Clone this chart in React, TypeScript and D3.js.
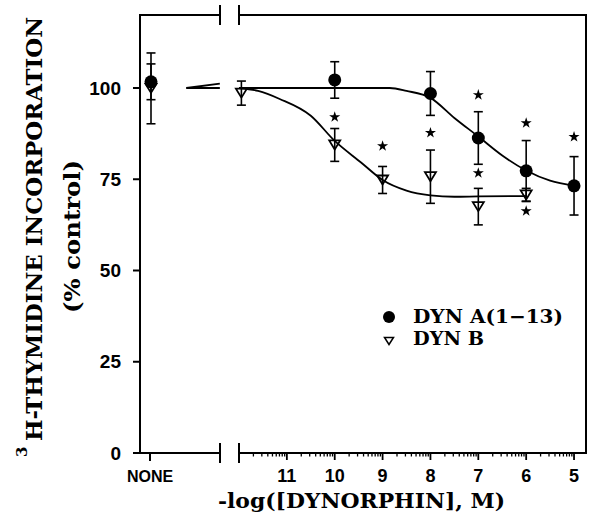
import React from "react";
import * as d3 from "d3";

// ---- data (x = -log[DYNORPHIN], M ; y = % control) ----
const noneA = { mean: 101.7, err: 4.9 };
const noneB = { mean: 99.9, err: 9.7 };

const dynAX = [10, 8, 7, 6, 5];
const dynAMean = [102.2, 98.5, 86.3, 77.3, 73.2];
const dynAErr = [5, 6, 7.2, 8.3, 8];

const dynBX = [11.95, 10, 9, 8, 7, 6];
const dynBMean = [98.6, 84.4, 74.8, 75.7, 67.5, 70.7];
const dynBErr = [3.3, 4.5, 3.7, 7.3, 5, 1.8];

const starAX = [7, 6, 5];
const starAY = [98.1, 90.4, 86.6];
const starBX = [10, 9, 8, 7, 6];
const starBY = [92.05, 84.1, 87.7, 76.7, 66.3];

// fitted curves
const curveALeftX = [13.1, 12.4];
const curveALeftY = [100, 100];
const curveBLeftX = [13.1, 12.4];
const curveBLeftY = [100, 101.2];
const curveAX = [12, 11, 10, 9, 8.85, 8.5, 8, 7.5, 7, 6.5, 6, 5.5, 5];
const curveAY = [100, 100, 100, 100, 100, 99.2, 97.3, 91.8, 86.7, 81.5, 77.4, 74.6, 73.2];
const curveBX = [12, 11.6, 11.15, 10.5, 10, 9.45, 9, 8.5, 8, 7.5, 7, 6];
const curveBY = [100, 99.2, 97, 92.4, 85.5, 79.6, 74.8, 71.9, 70.6, 70.2, 70.3, 70.4];

const yTicks = [0, 25, 50, 75, 100];
const xTicks = [11, 10, 9, 8, 7, 6, 5];
const noneLabel = "NONE";
const yTitle = "H-THYMIDINE INCORPORATION";
const yTitleSup = "3";
const yTitle2 = "(% control)";
const xTitle = "-log([DYNORPHIN], M)";
const legendLabels = ["DYN A(1\u221213)", "DYN B"];

// ---- layout ----
const L = 140, R = 586, T = 15, B = 453;
const brk1 = 220, brk2 = 239;

export default function App() {
  const x = d3.scaleLinear().domain([12, 4.75]).range([brk2, R]);
  const y = d3.scaleLinear().domain([0, 120]).range([B, T]);
  const noneX = 150;

  const line = d3
    .line<[number, number]>()
    .x((d) => x(d[0]))
    .y((d) => y(d[1]))
    .curve(d3.curveMonotoneX);

  const zipSort = (xs: number[], ys: number[]) =>
    xs.map((v, i) => [v, ys[i]] as [number, number]).sort((a, b) => b[0] - a[0]);

  const star = d3.symbol().type(d3.symbolStar).size(38)();

  // minor ticks (log positions within each decade)
  const minor: number[] = [];
  for (let dec = 12; dec > 5; dec--) {
    for (let k = 2; k <= 9; k++) {
      const v = dec - Math.log10(k);
      if (v <= 12 && v >= 4.75) minor.push(v);
    }
  }

  const tri = (cx: number, cy: number, w: number, h: number) =>
    `M${cx - w / 2},${cy - h / 2}L${cx + w / 2},${cy - h / 2}L${cx},${cy + h / 2}Z`;

  const errBar = (px: number, m: number, e: number, key: string) => (
    <g key={key} stroke="#000" strokeWidth={1.6}>
      <line x1={px} x2={px} y1={y(m + e)} y2={y(m - e)} />
      <line x1={px - 4.5} x2={px + 4.5} y1={y(m + e)} y2={y(m + e)} />
      <line x1={px - 4.5} x2={px + 4.5} y1={y(m - e)} y2={y(m - e)} />
    </g>
  );

  const serif = "'DejaVu Serif', serif";
  const sans = "'Liberation Sans', Arial, sans-serif";

  return (
    <svg
      width={600}
      height={525}
      style={{ position: "absolute", left: 0, top: 0, background: "#fff" }}
    >
      <rect x={0} y={0} width={600} height={525} fill="#fff" />
      {/* frame */}
      <g stroke="#000" strokeWidth={2} fill="none">
        <path d={`M${brk1},${T}H${L}V${B}H${brk1}`} />
        <path d={`M${brk2},${T}H${R}V${B}H${brk2}`} />
        <line x1={brk1} x2={brk1} y1={T - 10} y2={T + 10} />
        <line x1={brk2} x2={brk2} y1={T - 10} y2={T + 10} />
        <line x1={brk1} x2={brk1} y1={B - 10} y2={B + 10} />
        <line x1={brk2} x2={brk2} y1={B - 10} y2={B + 10} />
      </g>
      {/* y ticks */}
      {yTicks.map((t) => (
        <g key={"yt" + t}>
          <line x1={L - 7} x2={L} y1={y(t)} y2={y(t)} stroke="#000" strokeWidth={2} />
          <text
            x={L - 19}
            y={y(t)}
            dy="0.35em"
            textAnchor="end"
            fontFamily={sans}
            fontWeight="bold"
            fontSize={19}
          >
            {t}
          </text>
        </g>
      ))}
      {/* x ticks */}
      <line x1={noneX} x2={noneX} y1={B} y2={B + 8} stroke="#000" strokeWidth={2} />
      <text x={noneX} y={482} textAnchor="middle" fontFamily={sans} fontWeight="bold" fontSize={16}>
        {noneLabel}
      </text>
      {minor.map((v, i) => (
        <line key={"mn" + i} x1={x(v)} x2={x(v)} y1={B} y2={B + 3.5} stroke="#000" strokeWidth={1.3} />
      ))}
      {xTicks.map((t) => (
        <g key={"xt" + t}>
          <line x1={x(t)} x2={x(t)} y1={B} y2={B + 7} stroke="#000" strokeWidth={1.8} />
          <text x={x(t)} y={482} textAnchor="middle" fontFamily={sans} fontWeight="bold" fontSize={18}>
            {t}
          </text>
        </g>
      ))}
      {/* axis titles */}
      <g transform="rotate(-90)" fontFamily={serif} fontWeight="bold">
        <text x={-457} y={27} fontSize={15}>
          {yTitleSup}
        </text>
        <text x={-441} y={42} fontSize={23} textLength={424} lengthAdjust="spacingAndGlyphs">
          {yTitle}
        </text>
        <text x={-313} y={80} fontSize={22} textLength={153} lengthAdjust="spacingAndGlyphs">
          {yTitle2}
        </text>
      </g>
      <text
        x={218}
        y={508}
        fontFamily={serif}
        fontWeight="bold"
        fontSize={21}
        textLength={287}
        lengthAdjust="spacingAndGlyphs"
      >
        {xTitle}
      </text>

      {/* curves */}
      <g fill="none" stroke="#000" strokeWidth={1.8}>
        <path d={line(zipSort(curveALeftX, curveALeftY)) || ""} />
        <path d={line(zipSort(curveBLeftX, curveBLeftY)) || ""} />
        <path d={line(zipSort(curveAX, curveAY)) || ""} />
        <path d={line(zipSort(curveBX, curveBY)) || ""} />
      </g>

      {/* NONE points */}
      {errBar(noneX + 1, noneB.mean, noneB.err, "nbB")}
      {errBar(noneX + 1, noneA.mean, noneA.err, "nbA")}
      <path d={tri(noneX + 1, y(noneB.mean), 11, 9)} fill="none" stroke="#000" strokeWidth={1.8} />
      <circle cx={noneX + 1} cy={y(noneA.mean)} r={6.5} fill="#000" />

      {/* DYN B */}
      {dynBX.map((v, i) => errBar(x(v), dynBMean[i], dynBErr[i], "eb" + i))}
      {dynBX.map((v, i) => (
        <path key={"tb" + i} d={tri(x(v), y(dynBMean[i]), 11, 9)} fill="none" stroke="#000" strokeWidth={1.8} />
      ))}
      {/* DYN A */}
      {dynAX.map((v, i) => errBar(x(v), dynAMean[i], dynAErr[i], "ea" + i))}
      {dynAX.map((v, i) => (
        <circle key={"ca" + i} cx={x(v)} cy={y(dynAMean[i])} r={6.5} fill="#000" />
      ))}

      {/* significance stars */}
      {starAX.map((v, i) => (
        <path key={"sa" + i} d={star || ""} transform={`translate(${x(v)},${y(starAY[i])})`} fill="#000" />
      ))}
      {starBX.map((v, i) => (
        <path key={"sb" + i} d={star || ""} transform={`translate(${x(v)},${y(starBY[i])})`} fill="#000" />
      ))}

      {/* legend */}
      <circle cx={389} cy={317} r={6} fill="#000" />
      <text x={413} y={323} fontFamily={serif} fontWeight="bold" fontSize={19} textLength={150} lengthAdjust="spacingAndGlyphs">
        {legendLabels[0]}
      </text>
      <path d={tri(389, 341, 9, 7)} fill="none" stroke="#000" strokeWidth={1.5} />
      <text x={413} y={345} fontFamily={serif} fontWeight="bold" fontSize={19} textLength={71} lengthAdjust="spacingAndGlyphs">
        {legendLabels[1]}
      </text>
    </svg>
  );
}
